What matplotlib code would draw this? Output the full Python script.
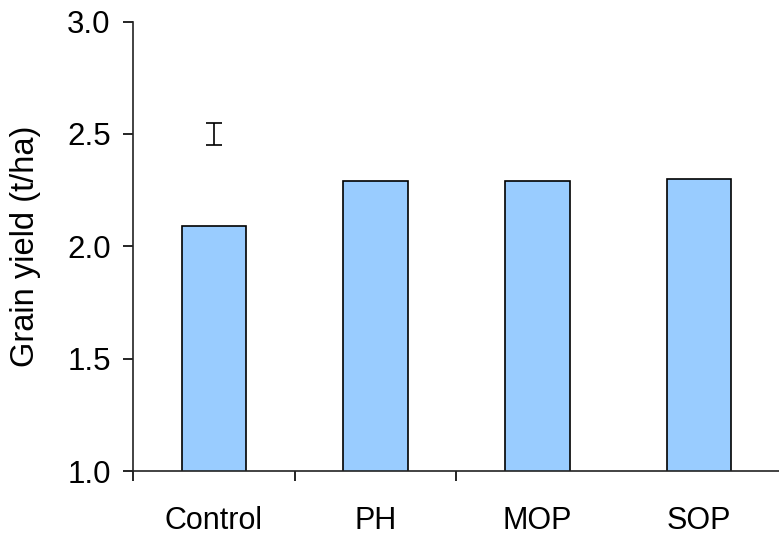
import matplotlib.pyplot as plt
import numpy as np

plt.rcParams['font.family'] = ['Liberation Sans', 'DejaVu Sans']

# data
treatments = ["Control", "PH", "MOP", "SOP"]
grain_yield = [2.09, 2.29, 2.29, 2.30]
lsd_center = 2.50
lsd_half = 0.05

fig = plt.figure(figsize=(7.79, 5.35), dpi=100)
ax = fig.add_axes([0.1707, 0.1196, 0.8306, 0.8402])

x = np.arange(len(treatments))
ax.bar(x, grain_yield, width=0.4, bottom=0, color="#99CCFF",
       edgecolor="black", linewidth=1.2, zorder=2)

# LSD bar above the first bar
ax.errorbar([x[0]], [lsd_center], yerr=[lsd_half], fmt="none",
            ecolor="black", elinewidth=1.2, capsize=5.5, capthick=1.2)

ax.set_xlim(-0.5, len(treatments) - 0.5)
ax.set_ylim(1.0, 3.0)
ax.set_yticks([1.0, 1.5, 2.0, 2.5, 3.0])
ax.set_yticklabels(["1.0", "1.5", "2.0", "2.5", "3.0"])

# ticks between categories, labels at centres
ax.set_xticks(x[:-1] - 0.5)
ax.set_xticklabels([])
ax.set_xticks(x, minor=True)
ax.set_xticklabels(treatments, minor=True)
ax.tick_params(axis="x", which="major", direction="out", length=7, width=1.2)
ax.tick_params(axis="x", which="minor", length=0, pad=25, labelsize=22)
ax.tick_params(axis="y", direction="out", length=7, width=1.2, pad=9, labelsize=22.5)

ax.set_ylabel("Grain yield (t/ha)", fontsize=23.5, labelpad=19)

for side in ["top", "right"]:
    ax.spines[side].set_visible(False)
for side in ["left", "bottom"]:
    ax.spines[side].set_linewidth(1.2)
    ax.spines[side].set_color("#222222")

fig.savefig("out.png", dpi=100)
